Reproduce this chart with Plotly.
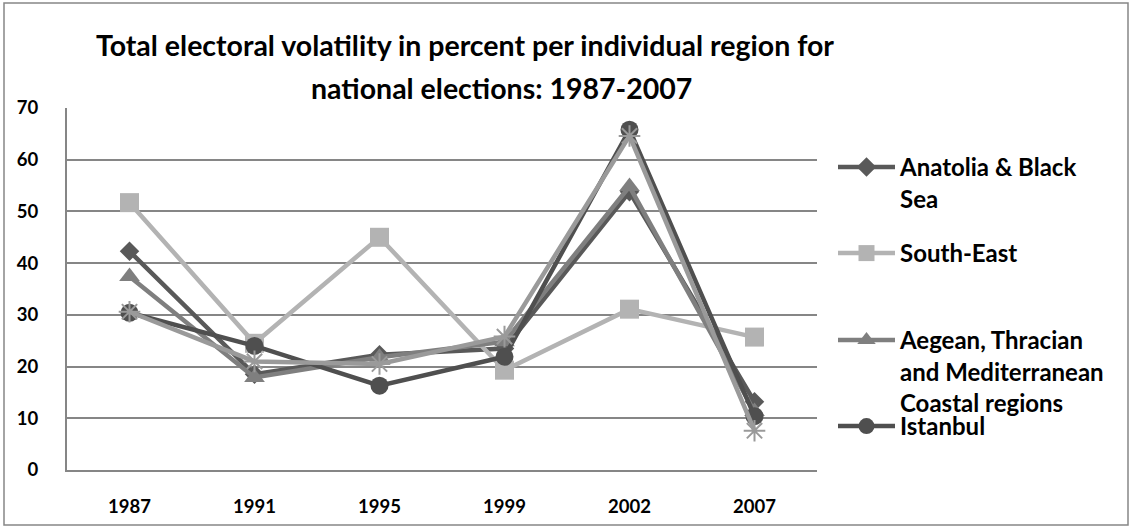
import plotly.graph_objects as go

years = ["1987", "1991", "1995", "1999", "2002", "2007"]

anatolia_black_sea = [42.3, 18.5, 22.3, 23.5, 53.8, 13.2]
south_east = [51.7, 24.5, 45.0, 19.3, 31.1, 25.7]
aegean_thracian_med = [37.4, 17.9, 21.8, 24.8, 54.8, 11.3]
istanbul = [30.4, 24.0, 16.3, 21.9, 65.8, 10.4]
other_regions = [30.6, 21.0, 20.5, 25.8, 64.6, 7.6]

names = [
    "Anatolia & Black<br>Sea",
    "South-East",
    "Aegean, Thracian<br>and Mediterranean<br>Coastal regions",
    "Istanbul",
]

FONT = "Lato"
GRID = "#868686"

series = [
    (anatolia_black_sea, names[0], "#595959", "diamond", 15, "legend"),
    (south_east, names[1], "#b3b3b3", "square", 19, "legend2"),
    (aegean_thracian_med, names[2], "#7f7f7f", "triangle-up", 18, "legend3"),
    (istanbul, names[3], "#4f4f4f", "circle", 18, "legend4"),
]

fig = go.Figure()
for vals, name, color, symbol, size, leg in series:
    fig.add_trace(go.Scatter(
        x=years, y=vals, name=name, mode="lines+markers",
        line=dict(color=color, width=4.5),
        marker=dict(symbol=symbol, size=size, color=color),
        legend=leg,
    ))

fig.add_trace(go.Scatter(
    x=years, y=other_regions, name="", mode="lines+markers",
    line=dict(color="#9a9a9a", width=4.5),
    marker=dict(symbol="asterisk-open", size=18,
                line=dict(color="#9a9a9a", width=2)),
    showlegend=False,
))

legend_common = dict(
    xanchor="left", yanchor="top", x=(833 - 67) / 750,
    bgcolor="rgba(0,0,0,0)", valign="top",
    font=dict(family=FONT, size=24, color="#000000", weight="bold"),
    itemwidth=57,
)
# top edge (px) of each stacked legend block
leg_top_px = [145, 231, 318, 404]
leg_y = [(470 - p) / 362 for p in leg_top_px]

fig.update_layout(
    width=1132, height=528,
    margin=dict(l=67, r=315, t=108, b=58),
    paper_bgcolor="#ffffff", plot_bgcolor="#ffffff",
    showlegend=True,
    legend=dict(legend_common, y=leg_y[0]),
    legend2=dict(legend_common, y=leg_y[1]),
    legend3=dict(legend_common, y=leg_y[2]),
    legend4=dict(legend_common, y=leg_y[3]),
    xaxis=dict(
        type="category", range=[-0.5, 5.5], showgrid=False, zeroline=False,
        showline=True, linecolor=GRID, linewidth=2,
        ticks="", tickfont=dict(family=FONT, size=18.5, color="#000000", weight="bold"),
        ticklabelstandoff=19,
    ),
    yaxis=dict(
        range=[0, 70], dtick=10, showgrid=True, gridcolor=GRID, gridwidth=2,
        zeroline=False, showline=True, linecolor=GRID, linewidth=2,
        ticks="", tickfont=dict(family=FONT, size=18.5, color="#000000", weight="bold"),
        ticklabelstandoff=23,
    ),
    annotations=[
        dict(text="Total electoral volatility in percent per individual region for",
             xref="paper", yref="paper", x=(465 - 67) / 750, y=(470 - 45) / 362,
             xanchor="center", yanchor="middle", showarrow=False,
             font=dict(family=FONT, size=28.5, color="#000000", weight="bold")),
        dict(text="national elections: 1987-2007",
             xref="paper", yref="paper", x=(502 - 67) / 750, y=(470 - 88) / 362,
             xanchor="center", yanchor="middle", showarrow=False,
             font=dict(family=FONT, size=28.5, color="#000000", weight="bold")),
    ],
    shapes=[
        dict(type="rect", xref="paper", yref="paper",
             x0=(4 - 67) / 750, x1=(1128 - 67) / 750,
             y0=(470 - 525) / 362, y1=(470 - 3) / 362,
             line=dict(color=GRID, width=1.5), fillcolor="rgba(0,0,0,0)", layer="below"),
    ],
)

fig.write_html("out.html")
